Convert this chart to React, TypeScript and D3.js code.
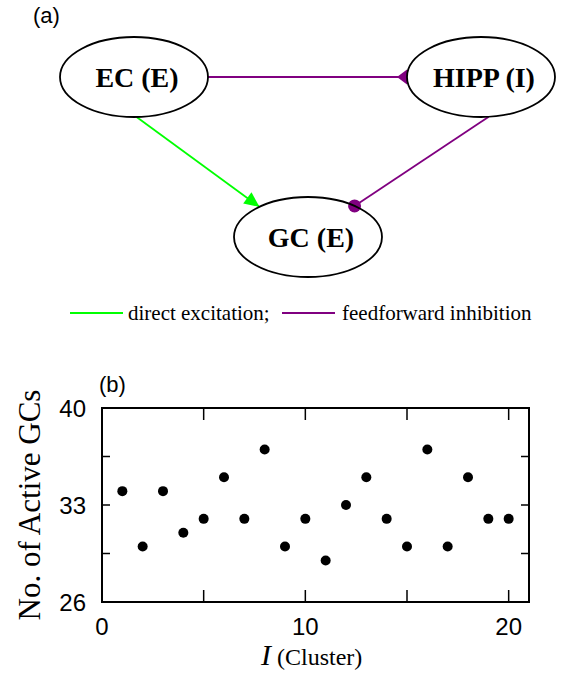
import React from "react";
import * as d3 from "d3";

// Panel (a): network diagram
const nodeNames = ["EC (E)", "HIPP (I)", "GC (E)"];
const legendLabels = ["direct excitation;", "feedforward inhibition"];
const legendColors = ["#00ff00", "#800080"];

// Panel (b): number of active GCs per cluster
const clusters = [1, 2, 3, 4, 5, 6, 7, 8, 9, 10, 11, 12, 13, 14, 15, 16, 17, 18, 19, 20];
const activeGCs = [34, 30, 34, 31, 32, 35, 32, 37, 30, 32, 29, 33, 35, 32, 30, 37, 30, 35, 32, 32];
const yTicks = [26, 29.5, 33, 36.5, 40];
const yTickLabels = [26, 33, 40];
const xTickLabels = [0, 10, 20];

const W = 566;
const H = 677;
const SERIF = "'Liberation Serif', 'Times New Roman', serif";
const SANS = "'Liberation Sans', Arial, sans-serif";

// diagram layout
const nodePos = [
  { cx: 134, cy: 77 },
  { cx: 481, cy: 77 },
  { cx: 308, cy: 237 },
];
const RX = 74;
const RY = 40;

const onEllipse = (i: number, deg: number) => {
  const a = (deg * Math.PI) / 180;
  return [nodePos[i].cx + RX * Math.cos(a), nodePos[i].cy + RY * Math.sin(a)];
};

const tri = (tip: number[], from: number[], len: number, half: number) => {
  const dx = tip[0] - from[0];
  const dy = tip[1] - from[1];
  const L = Math.hypot(dx, dy);
  const ux = dx / L, uy = dy / L;
  const bx = tip[0] - ux * len, by = tip[1] - uy * len;
  return `M${tip[0]},${tip[1]}L${bx - uy * half},${by + ux * half}L${bx + uy * half},${by - ux * half}Z`;
};

const Diagram = () => {
  // EC -> GC (green, arrow), EC -> HIPP (purple, reversed triangle), HIPP -> GC (purple, dot)
  const g0 = onEllipse(0, 88);
  const g1 = onEllipse(2, -131);
  const p0 = onEllipse(0, 0);
  const p1 = onEllipse(1, 180);
  const q0 = onEllipse(1, 84);
  const q1 = onEllipse(2, -51);
  return (
    <g>
      <text x={33} y={23} fontFamily={SANS} fontSize={22}>(a)</text>
      <line x1={g0[0]} y1={g0[1]} x2={g1[0]} y2={g1[1]} stroke={legendColors[0]} strokeWidth={1.8} />
      <path d={tri(g1, g0, 15, 7)} fill={legendColors[0]} />
      <line x1={p0[0]} y1={p0[1]} x2={p1[0]} y2={p1[1]} stroke={legendColors[1]} strokeWidth={1.8} />
      <path d={tri([p1[0] - 10, p1[1]], [p1[0], p1[1]], 10, 7.5)} fill={legendColors[1]} />
      <line x1={q0[0]} y1={q0[1]} x2={q1[0]} y2={q1[1]} stroke={legendColors[1]} strokeWidth={1.8} />
      <circle cx={q1[0]} cy={q1[1]} r={6.5} fill={legendColors[1]} />
      {nodeNames.map((n, i) => (
        <g key={n}>
          <ellipse cx={nodePos[i].cx} cy={nodePos[i].cy} rx={RX} ry={RY} fill="none" stroke="#000" strokeWidth={1.8} />
          <text
            x={nodePos[i].cx + 3}
            y={nodePos[i].cy + 10}
            textAnchor="middle"
            fontFamily={SERIF}
            fontWeight="bold"
            fontSize={28}
          >
            {n}
          </text>
        </g>
      ))}
      {/* legend */}
      <line x1={70} x2={123} y1={313} y2={313} stroke={legendColors[0]} strokeWidth={2} />
      <text x={128} y={320} fontFamily={SERIF} fontSize={21}>{legendLabels[0]}</text>
      <line x1={282} x2={335} y1={313} y2={313} stroke={legendColors[1]} strokeWidth={2} />
      <text x={342} y={320} fontFamily={SERIF} fontSize={21}>{legendLabels[1]}</text>
    </g>
  );
};

const Scatter = () => {
  const left = 102, right = 529, top = 408, bottom = 602;
  const x = d3.scaleLinear().domain([0, 21]).range([left, right]);
  const y = d3.scaleLinear().domain([26, 40]).range([bottom, top]);
  const xTicks = x.ticks(5);
  return (
    <g>
      <text x={99} y={392} fontFamily={SANS} fontSize={22}>(b)</text>
      {xTicks.map((t) => (
        <g key={"x" + t}>
          <line x1={x(t)} x2={x(t)} y1={bottom} y2={bottom - 12} stroke="#000" strokeWidth={1.5} />
          <line x1={x(t)} x2={x(t)} y1={top} y2={top + 12} stroke="#000" strokeWidth={1.5} />
        </g>
      ))}
      {yTicks.map((t) => (
        <g key={"y" + t}>
          <line x1={left} x2={left + 8} y1={y(t)} y2={y(t)} stroke="#000" strokeWidth={1.5} />
          <line x1={right} x2={right - 8} y1={y(t)} y2={y(t)} stroke="#000" strokeWidth={1.5} />
        </g>
      ))}
      <rect x={left} y={top} width={right - left} height={bottom - top} fill="none" stroke="#000" strokeWidth={2} />
      {xTickLabels.map((t) => (
        <text key={"xl" + t} x={x(t)} y={635} textAnchor="middle" fontFamily={SANS} fontSize={24}>
          {t}
        </text>
      ))}
      {yTickLabels.map((t) => (
        <text key={"yl" + t} x={86} y={y(t) + 8.5} textAnchor="end" fontFamily={SANS} fontSize={24}>
          {t}
        </text>
      ))}
      {clusters.map((c, i) => (
        <circle key={c} cx={x(c)} cy={y(activeGCs[i])} r={5} fill="#000" />
      ))}
      <text
        transform={`translate(40,${(top + bottom) / 2}) rotate(-90)`}
        textAnchor="middle"
        fontFamily={SERIF}
        fontSize={31}
      >
        No. of Active GCs
      </text>
      <text x={261} y={665} fontFamily={SERIF}>
        <tspan fontStyle="italic" fontSize={30}>I</tspan>
        <tspan fontSize={24}> (Cluster)</tspan>
      </text>
    </g>
  );
};

export default function App() {
  return (
    <svg width={W} height={H} style={{ position: "absolute", left: 0, top: 0, background: "#fff" }}>
      <Diagram />
      <Scatter />
    </svg>
  );
}
